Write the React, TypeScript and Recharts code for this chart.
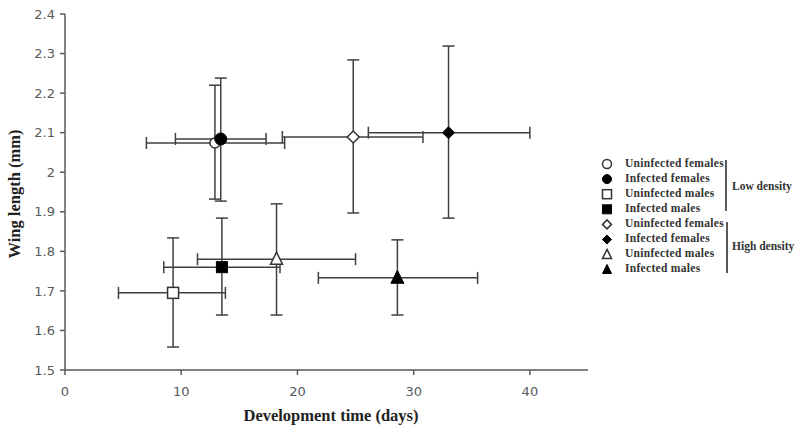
import React from 'react';
import { ScatterChart, Scatter, XAxis, YAxis, ErrorBar } from 'recharts';

// one entry per group
const seriesNames = [
  'Uninfected females', 'Infected females', 'Uninfected males', 'Infected males',
  'Uninfected females', 'Infected females', 'Uninfected males', 'Infected males',
];
const markerKinds = [
  'circle-open', 'circle', 'square-open', 'square',
  'diamond-open', 'diamond', 'triangle-open', 'triangle',
];
const densityGroups = ['Low density', 'High density'];

const devTime = [12.9, 13.4, 9.3, 13.5, 24.8, 33.0, 18.2, 28.6];
const devTimeLow = [7.0, 9.5, 4.6, 8.5, 18.7, 26.1, 11.4, 21.8];
const devTimeHigh = [18.9, 17.3, 13.8, 18.5, 30.8, 40.0, 25.0, 35.5];

const wingLength = [2.074, 2.084, 1.695, 1.76, 2.089, 2.1, 1.78, 1.733];
const wingLow = [1.932, 1.927, 1.558, 1.639, 1.897, 1.884, 1.639, 1.639];
const wingHigh = [2.22, 2.238, 1.834, 1.884, 2.284, 2.319, 1.92, 1.829];

const xTicks = [0, 10, 20, 30, 40];
const yTicks = [1.5, 1.6, 1.7, 1.8, 1.9, 2, 2.1, 2.2, 2.3, 2.4];

const AXIS = '#595959';
const BAR = '#404040';

const Marker = ({ kind, cx, cy, s }: { kind: string; cx: number; cy: number; s: number }) => {
  const open = kind.endsWith('-open');
  const fill = open ? '#fff' : '#000';
  const stroke = open ? '#333' : '#000';
  const sw = open ? 1.5 : 1;
  const base = kind.replace('-open', '');
  const h = s / 2;
  if (base === 'circle') return <circle cx={cx} cy={cy} r={h} fill={fill} stroke={stroke} strokeWidth={sw} />;
  if (base === 'square')
    return <rect x={cx - h} y={cy - h} width={s} height={s} fill={fill} stroke={stroke} strokeWidth={sw} />;
  if (base === 'diamond')
    return (
      <polygon
        points={`${cx},${cy - h} ${cx + h},${cy} ${cx},${cy + h} ${cx - h},${cy}`}
        fill={fill} stroke={stroke} strokeWidth={sw}
      />
    );
  return (
    <polygon
      points={`${cx},${cy - s * 0.58} ${cx + h},${cy + s * 0.42} ${cx - h},${cy + s * 0.42}`}
      fill={fill} stroke={stroke} strokeWidth={sw}
    />
  );
};

const markerSize = [10, 12, 11, 11, 12, 12, 12, 13];

export default function App() {
  const series = seriesNames.map((name, i) => ({
    name,
    data: [
      {
        x: devTime[i],
        y: wingLength[i],
        ex: [devTime[i] - devTimeLow[i], devTimeHigh[i] - devTime[i]],
        ey: [wingLength[i] - wingLow[i], wingHigh[i] - wingLength[i]],
      },
    ],
  }));

  const legendY0 = 164;
  const legendStep = 15.1;

  return (
    <div style={{ position: 'relative', width: 800, height: 441, background: '#fff' }}>
      <style>{`body{margin:0}`}</style>
      <ScatterChart width={800} height={441} margin={{ top: 14, right: 212, bottom: 41, left: 25 }}>
        <XAxis
          type="number"
          dataKey="x"
          domain={[0, 45]}
          ticks={xTicks}
          stroke={AXIS}
          strokeWidth={1.5}
          tickSize={5}
          tickMargin={12}
          height={30}
          tick={{ fill: AXIS, fontSize: 13, fontFamily: 'DejaVu Sans' }}
        />
        <YAxis
          type="number"
          dataKey="y"
          domain={[1.5, 2.4]}
          ticks={yTicks}
          stroke={AXIS}
          strokeWidth={1.5}
          tickSize={5}
          tickMargin={5}
          width={40}
          tick={{ fill: AXIS, fontSize: 13, fontFamily: 'DejaVu Sans' }}
        />
        {series.map((sr, i) => (
          <Scatter
            key={i}
            name={sr.name}
            data={sr.data}
            isAnimationActive={false}
            shape={(p: any) => <Marker kind={markerKinds[i]} cx={p.cx} cy={p.cy} s={markerSize[i]} />}
          >
            <ErrorBar dataKey="ex" direction="x" stroke={BAR} strokeWidth={1.5} width={6} isAnimationActive={false} />
            <ErrorBar dataKey="ey" direction="y" stroke={BAR} strokeWidth={1.5} width={6} isAnimationActive={false} />
          </Scatter>
        ))}
      </ScatterChart>
      <svg
        width={800}
        height={441}
        style={{ position: 'absolute', left: 0, top: 0, pointerEvents: 'none' }}
      >
        <text
          x={331}
          y={417}
          textAnchor="middle"
          dominantBaseline="middle"
          fontFamily="Liberation Serif"
          fontWeight="bold"
          fontSize={16.5}
          fill="#222"
        >
          Development time (days)
        </text>
        <text
          x={16}
          y={194}
          transform="rotate(-90 16 194)"
          textAnchor="middle"
          dominantBaseline="middle"
          fontFamily="Liberation Serif"
          fontWeight="bold"
          fontSize={16.5}
          fill="#222"
        >
          Wing length (mm)
        </text>
        {seriesNames.map((name, i) => {
          const y = legendY0 + i * legendStep;
          return (
            <g key={i}>
              <Marker kind={markerKinds[i]} cx={607} cy={y} s={9} />
              <text
                x={625}
                y={y}
                dominantBaseline="middle"
                fontFamily="Liberation Serif"
                fontWeight="bold"
                fontSize={11.5}
                letterSpacing={0.3}
                fill="#333"
              >
                {name}
              </text>
            </g>
          );
        })}
        <line x1={726} y1={160} x2={726} y2={211} stroke="#222" strokeWidth={1.5} />
        <line x1={727} y1={222} x2={727} y2={273} stroke="#222" strokeWidth={1.5} />
        {densityGroups.map((g, i) => (
          <text
            key={g}
            x={732}
            y={i === 0 ? 187 : 247}
            dominantBaseline="middle"
            fontFamily="Liberation Serif"
            fontWeight="bold"
            fontSize={11.5}
            fill="#333"
          >
            {g}
          </text>
        ))}
      </svg>
    </div>
  );
}
